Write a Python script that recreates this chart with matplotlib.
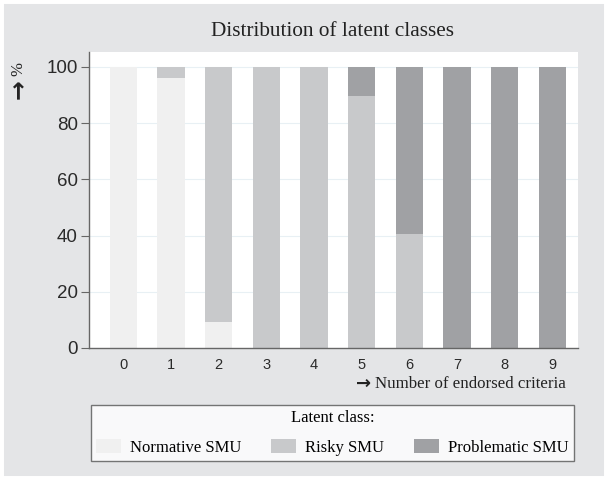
import matplotlib
matplotlib.use("Agg")
import matplotlib.pyplot as plt
import numpy as np
from matplotlib.patches import Patch, Rectangle

categories = ["0", "1", "2", "3", "4", "5", "6", "7", "8", "9"]
normative = [100, 96, 9.3, 0, 0, 0, 0, 0, 0, 0]
risky = [0, 4, 90.7, 100, 100, 89.7, 40.6, 0, 0, 0]
problematic = [0, 0, 0, 0, 0, 10.3, 59.4, 100, 100, 100]
series_names = ["Normative SMU", "Risky SMU", "Problematic SMU"]
colors = ["#f0f0f0", "#c8c9cb", "#a0a1a4"]
yticks = [0, 20, 40, 60, 80, 100]

W, H = 607, 479
fig = plt.figure(figsize=(W / 100, H / 100), dpi=100)
fig.patch.set_facecolor("#e4e5e7")
fig.patches.append(Rectangle((0, 0), 1, 1, transform=fig.transFigure,
                             fill=False, edgecolor="white", linewidth=5))

ax = fig.add_axes([89 / W, 1 - 348 / H, (578 - 89) / W, (348 - 52) / H])
ax.set_facecolor("white")

x = np.arange(len(categories))
width = 0.57
bottoms = np.zeros(len(categories))
for vals, name, c in zip([normative, risky, problematic], series_names, colors):
    ax.bar(x, vals, width, bottom=bottoms, color=c, label=name, zorder=2)
    bottoms = bottoms + np.array(vals)

ax.set_xlim(-0.72, 9.54)
ax.set_ylim(0, 105.3)
ax.set_yticks(yticks)
ax.set_yticklabels([str(v) for v in yticks], fontsize=13.5,
                   family="Liberation Sans", color="#2a2a2a")
ax.set_xticks(x)
ax.set_xticklabels(categories, fontsize=10.5, family="Liberation Sans",
                   color="#2a2a2a")
ax.tick_params(axis="y", length=6, color="#666666", pad=2)
ax.tick_params(axis="x", length=0, pad=7)
for yv in yticks[1:]:
    ax.axhline(yv, color="#e8f0f4", linewidth=0.8, zorder=1)
for s in ["top", "right"]:
    ax.spines[s].set_visible(False)
for s in ["left", "bottom"]:
    ax.spines[s].set_color("#666666")
    ax.spines[s].set_linewidth(1.0)

fig.text(333 / W, 1 - 32 / H, "Distribution of latent classes",
         ha="center", va="center", fontsize=15.3, family="Liberation Serif",
         color="#222222")

# y label: arrow + %
fig.text(18 / W, 1 - 89 / H, "→", rotation=90, ha="center", va="center",
         fontsize=17, family="DejaVu Sans", fontweight="bold", color="#222222")
fig.text(18 / W, 1 - 69 / H, "%", rotation=90, ha="center", va="center",
         fontsize=12, family="Liberation Serif", color="#222222")

# x label: arrow + text, right aligned
xl = fig.text(566 / W, 1 - 384 / H, "Number of endorsed criteria", ha="right",
              va="center", fontsize=12.2, family="Liberation Serif",
              color="#222222")
fig.canvas.draw()
bb = xl.get_window_extent(fig.canvas.get_renderer())
fig.text((bb.x0 - 4) / W, 1 - 384 / H, "→", ha="right", va="center",
         fontsize=13, family="DejaVu Sans", fontweight="bold", color="#222222")

handles = [Patch(facecolor=c, edgecolor="none") for c in colors]
leg = fig.legend(handles, series_names, loc="center",
                 bbox_to_anchor=(91 / W, 1 - 462 / H, (574 - 91) / W, (462 - 404) / H),
                 mode="expand", ncol=3, title="Latent class:",
                 prop={"family": "Liberation Serif", "size": 12},
                 title_fontproperties={"family": "Liberation Serif", "size": 12},
                 frameon=True, fancybox=False, borderaxespad=0,
                 handlelength=1.5, handleheight=0.9, handletextpad=0.55,
                 columnspacing=1.0, borderpad=0.3, labelspacing=0.75)
leg.get_frame().set_edgecolor("#555555")
leg.get_frame().set_linewidth(1.0)
leg.get_frame().set_facecolor("white")

fig.savefig("out.png", dpi=100, facecolor=fig.get_facecolor())
